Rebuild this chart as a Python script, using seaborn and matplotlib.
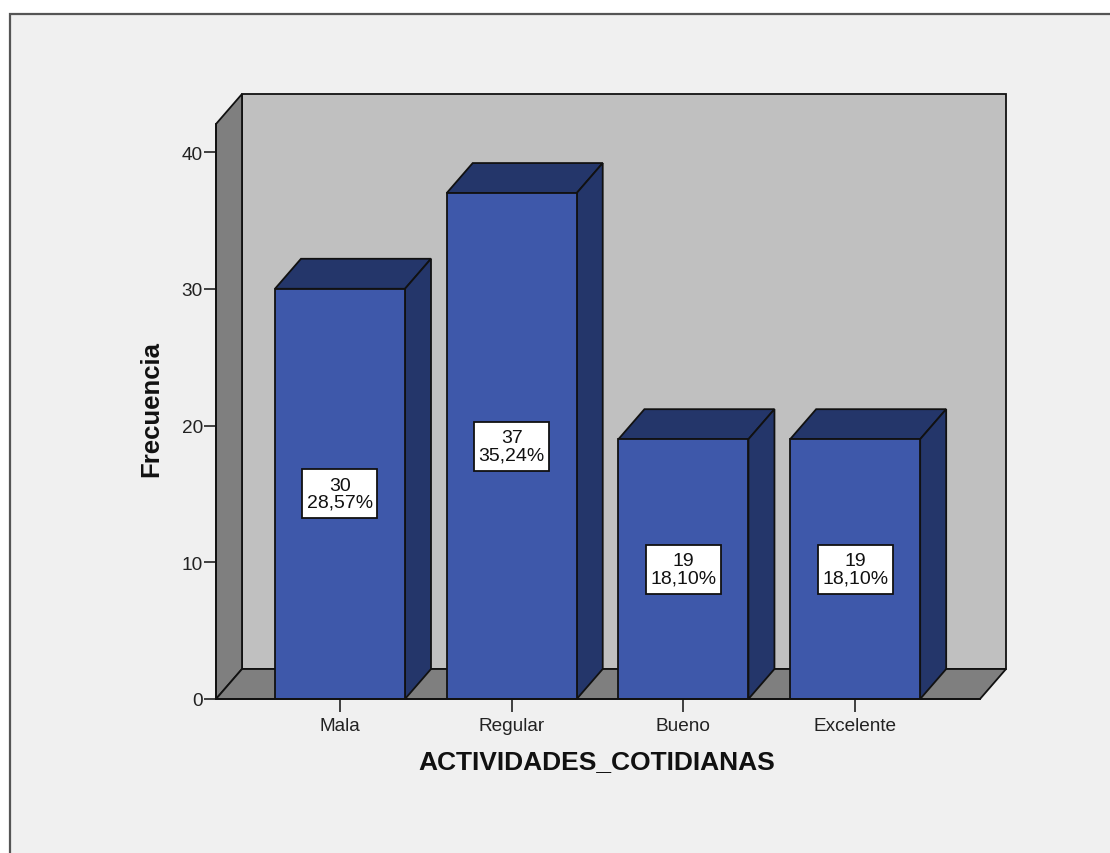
import matplotlib
matplotlib.use("Agg")
import matplotlib.pyplot as plt
from matplotlib.patches import Polygon, Rectangle
import seaborn as sns

categories = ["Mala", "Regular", "Bueno", "Excelente"]
frequencies = [30, 37, 19, 19]
percents = ["28,57%", "35,24%", "18,10%", "18,10%"]
y_ticks = [0, 10, 20, 30, 40]

W, H = 1110, 854
BG = "#f0f0f0"
WALL = "#c0c0c0"
FLOOR = "#7f7f7f"
BAR = "#3e58aa"
BAR_DARK = "#24366a"

# oblique offset of the fake 3d box, in data units
DX = 26 / 171.7
DY = 30 / 13.675
BAR_W = 130 / 171.7
BOX_W = 75 / 171.7
BOX_H = 49 / 13.675
XLIM = (-0.722, 3.727)
YLIM = (0, 42.05)

sns.set_theme(style="white")
plt.rcParams["font.family"] = ["Liberation Sans", "DejaVu Sans"]

fig = plt.figure(figsize=(W / 100, H / 100), dpi=100, facecolor="white")

# grey panel with the dark frame on top and left, running off the bottom and right
fig.add_artist(Rectangle((10 / W, -0.01), 1, 1.01 - 15 / H, transform=fig.transFigure,
                         facecolor=BG, edgecolor="#555555", linewidth=1.6, zorder=-1))

ax = fig.add_axes([216 / W, (H - 700) / H, 764 / W, 575 / H])
ax.patch.set_visible(False)


def poly(points, color, z=1):
    ax.add_patch(Polygon(points, closed=True, facecolor=color, edgecolor="#111111",
                         linewidth=1.3, clip_on=False, zorder=z, joinstyle="miter"))


x0, x1 = XLIM
y0, y1 = YLIM
poly([(x0 + DX, y0 + DY), (x1 + DX, y0 + DY), (x1 + DX, y1 + DY), (x0 + DX, y1 + DY)], WALL)
poly([(x0, y0), (x0 + DX, y0 + DY), (x0 + DX, y1 + DY), (x0, y1)], FLOOR)
poly([(x0, y0), (x1, y0), (x1 + DX, y0 + DY), (x0 + DX, y0 + DY)], FLOOR)

sns.barplot(x=categories, y=frequencies, order=categories, color=BAR, saturation=1,
            width=BAR_W, edgecolor="#111111", linewidth=1.3, zorder=3, ax=ax)

for i, v in enumerate(frequencies):
    l, r = i - BAR_W / 2, i + BAR_W / 2
    poly([(l, v), (r, v), (r + DX, v + DY), (l + DX, v + DY)], BAR_DARK, z=2)
    poly([(r, 0), (r + DX, DY), (r + DX, v + DY), (r, v)], BAR_DARK, z=2)
    ax.add_patch(Rectangle((i - BOX_W / 2, v / 2 - BOX_H / 2), BOX_W, BOX_H, facecolor="white",
                           edgecolor="#111111", linewidth=1.3, zorder=5))
    ax.text(i, v / 2, f"{v}\n{percents[i]}", ha="center", va="center", fontsize=14,
            linespacing=1.0, color="#111111", zorder=6)

ax.set_xlim(XLIM)
ax.set_ylim(YLIM)
ax.set_yticks(y_ticks)
ax.tick_params(axis="both", left=True, bottom=True, length=9, width=1.2, color="#222222",
               labelsize=13.7, labelcolor="#222222")
ax.tick_params(axis="y", pad=0.5)
ax.tick_params(axis="x", pad=4)
for side in ["top", "right"]:
    ax.spines[side].set_visible(False)
for side in ["left", "bottom"]:
    ax.spines[side].set_color("#111111")
    ax.spines[side].set_linewidth(1.3)
    ax.spines[side].set_zorder(4)

ax.set_xlabel("ACTIVIDADES_COTIDIANAS", fontsize=19, fontweight="bold", color="#111111")
ax.set_ylabel("Frecuencia", fontsize=18.5, fontweight="bold", color="#111111")
ax.xaxis.set_label_coords((597 - 216) / 764, -(762 - 700) / 575)
ax.yaxis.set_label_coords((151 - 216) / 764, (700 - 409) / 575)
ax.xaxis.label.set_va("center")
ax.yaxis.label.set_va("center")

fig.savefig("out.png", dpi=100, facecolor=fig.get_facecolor())
